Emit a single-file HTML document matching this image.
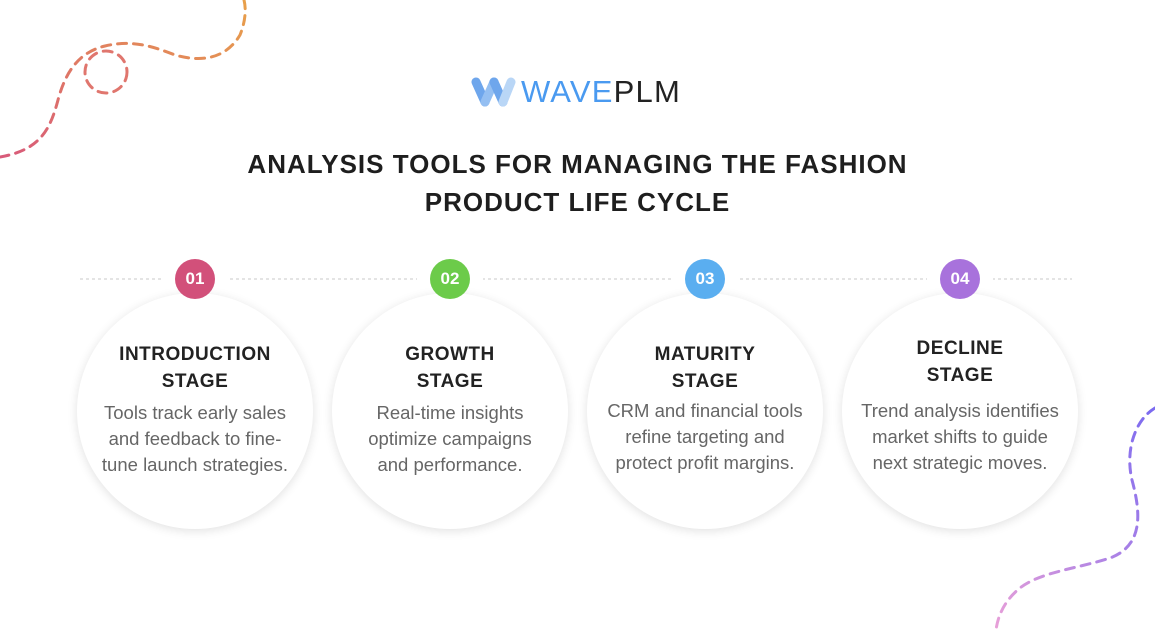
<!DOCTYPE html>
<html><head><meta charset="utf-8"><style>
body{margin:0;width:1155px;height:630px;background:#fff;position:relative;overflow:hidden;font-family:"Liberation Sans",sans-serif}
.t{position:absolute;left:0;width:1155px;text-align:center;font-weight:bold;font-size:26px;color:#1e1e1e;letter-spacing:1px}
.c{position:absolute;width:236px;height:236px;border-radius:50%;background:#fff;box-shadow:0 2px 10px rgba(0,0,0,0.12);top:293px}
.b{position:absolute;width:40px;height:40px;border-radius:50%;top:259px;color:#fff;font-weight:bold;font-size:17px;text-align:center;line-height:40px}
.h{position:absolute;left:0;width:236px;text-align:center;font-weight:bold;font-size:19px;line-height:27px;color:#222;top:48px;letter-spacing:0.5px}
.p{position:absolute;left:0;width:236px;text-align:center;font-size:18.5px;line-height:26px;color:#666;top:107px;white-space:nowrap}
</style></head><body>
<svg width="1155" height="630" style="position:absolute;left:0;top:0">
<defs>
<linearGradient id="g1" x1="0" y1="1" x2="1" y2="0"><stop offset="0" stop-color="#d85a7a"/><stop offset="1" stop-color="#e8a04a"/></linearGradient>
<linearGradient id="g2" x1="0" y1="1" x2="1" y2="0"><stop offset="0" stop-color="#e8a0d8"/><stop offset="1" stop-color="#7a6af0"/></linearGradient>
</defs>
<path d="M0,157 C40,150 50,130 58,100 C66,70 80,52 105,46 C130,40 150,45 175,55 C200,62 225,60 240,35 C246,20 246,8 244,0" fill="none" stroke="url(#g1)" stroke-width="3" stroke-dasharray="9,7" stroke-linecap="round"/>
<circle cx="106" cy="72" r="21" fill="none" stroke="#e0766e" stroke-width="3" stroke-dasharray="9,7" stroke-linecap="round"/>
<path d="M1155,408 C1135,420 1125,450 1132,480 C1140,510 1145,545 1110,558 C1080,568 1040,572 1020,588 C1005,600 998,615 996,630" fill="none" stroke="url(#g2)" stroke-width="3" stroke-dasharray="9,7" stroke-linecap="round"/>
<line x1="80" y1="279" x2="1072" y2="279" stroke="#c8c8c8" stroke-width="1" stroke-dasharray="3,3"/>
<rect x="162" y="270" width="66" height="20" fill="#fff"/><rect x="417" y="270" width="66" height="20" fill="#fff"/><rect x="672" y="270" width="66" height="20" fill="#fff"/><rect x="927" y="270" width="66" height="20" fill="#fff"/>
<g opacity="0.8"><path d="M476,82 L485,102" stroke="#4a90e8" stroke-width="9" stroke-linecap="round"/><path d="M485,102 L494,82" stroke="#7ab0f0" stroke-width="9" stroke-linecap="round"/><path d="M494,82 L503,102" stroke="#4a90e8" stroke-width="9" stroke-linecap="round"/><path d="M503,102 L511,82" stroke="#a8ccf5" stroke-width="9" stroke-linecap="round"/></g>
</svg>
<div style="position:absolute;left:521px;top:75px;font-size:31px;line-height:34px;letter-spacing:1.2px"><span style="color:#4a9af0">WAVE</span><span style="color:#222">PLM</span></div>
<div class="t" style="top:149px">ANALYSIS TOOLS FOR MANAGING THE FASHION</div>
<div class="t" style="top:187px">PRODUCT LIFE CYCLE</div>

<div class="c" style="left:77px"><div class="h">INTRODUCTION<br>STAGE</div><div class="p">Tools track early sales<br>and feedback to fine-<br>tune launch strategies.</div></div>
<div class="c" style="left:332px"><div class="h">GROWTH<br>STAGE</div><div class="p">Real-time insights<br>optimize campaigns<br>and performance.</div></div>
<div class="c" style="left:587px"><div class="h">MATURITY<br>STAGE</div><div class="p" style="top:105px">CRM and financial tools<br>refine targeting and<br>protect profit margins.</div></div>
<div class="c" style="left:842px"><div class="h" style="top:42px">DECLINE<br>STAGE</div><div class="p" style="top:105px">Trend analysis identifies<br>market shifts to guide<br>next strategic moves.</div></div>

<div class="b" style="left:175px;background:#d2507a">01</div>
<div class="b" style="left:430px;background:#6ccb4a">02</div>
<div class="b" style="left:685px;background:#5aaef0">03</div>
<div class="b" style="left:940px;background:#a872dc">04</div>
</body></html>
